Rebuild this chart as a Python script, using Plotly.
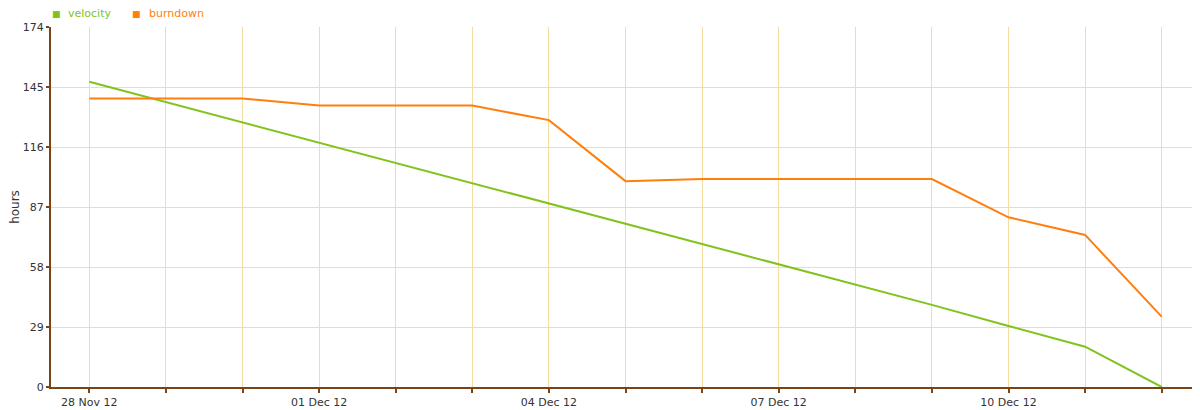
import plotly.graph_objects as go

dates = ["2012-11-28", "2012-11-29", "2012-11-30", "2012-12-01", "2012-12-02",
         "2012-12-03", "2012-12-04", "2012-12-05", "2012-12-06", "2012-12-07",
         "2012-12-08", "2012-12-09", "2012-12-10", "2012-12-11", "2012-12-12"]
velocity = [147.5, 137.7, 127.9, 118.1, 108.3, 98.5, 88.7, 78.9, 69.1, 59.3,
            49.5, 39.7, 29.5, 19.5, 0]
burndown = [139.5, 139.5, 139.5, 136, 136, 136, 129, 99.5, 100.5, 100.5,
            100.5, 100.5, 82, 73.5, 34]
tick_labels = ["28 Nov 12", "", "", "01 Dec 12", "", "", "04 Dec 12", "", "",
               "07 Dec 12", "", "", "10 Dec 12", "", ""]
y_ticks = [0, 29, 58, 87, 116, 145, 174]
series_names = ["velocity", "burndown"]

GREEN = "#80C31C"
ORANGE = "#FF7F0E"
BROWN = "#7A4419"
GRID = "#F5DCA0"
FONT = "DejaVu Sans"

# The page body has an 8px margin, so the figure is drawn 8px in from the window edge.
W, H = 1192, 402
ML, MT, MB, MR = 43, 19, 23, 0
PW, PH = W - ML - MR, H - MT - MB


def px_to_paper(xw, yw):
    """window pixel -> paper coords (figure offset by 8px body margin)"""
    return (xw - 8 - ML) / PW, (H - MB - (yw - 8)) / PH


fig = go.Figure()
fig.add_trace(go.Scatter(x=dates, y=velocity, mode="lines", line=dict(color=GREEN, width=2),
                         showlegend=False, name=series_names[0]))
fig.add_trace(go.Scatter(x=dates, y=burndown, mode="lines", line=dict(color=ORANGE, width=2),
                         showlegend=False, name=series_names[1]))

# legend drawn as text (square + coloured label)
legend_items = [(series_names[0], GREEN, 56, 66), (series_names[1], ORANGE, 136, 147)]
annotations = []
for name, col, sq_x, tx_x in legend_items:
    sx, sy = px_to_paper(sq_x, 14.5)
    tx, ty = px_to_paper(tx_x, 14)
    annotations.append(dict(text="■", x=sx, y=sy, xref="paper", yref="paper",
                            xanchor="center", yanchor="middle", showarrow=False,
                            font=dict(size=9, color=col, family=FONT)))
    annotations.append(dict(text=name, x=tx, y=ty, xref="paper", yref="paper",
                            xanchor="left", yanchor="middle", showarrow=False,
                            font=dict(size=11, color=col, family=FONT)))

fig.update_layout(
    width=W, height=H,
    margin=dict(l=ML, r=MR, t=MT, b=MB, autoexpand=False),
    paper_bgcolor="white", plot_bgcolor="white",
    font=dict(family=FONT, size=11, color="#333333"),
    showlegend=False,
    annotations=annotations,
)

fig.update_xaxes(
    type="date",
    range=["2012-11-27 12:00", "2012-12-12 12:00"],
    tickvals=dates, ticktext=tick_labels,
    showgrid=True, gridcolor=GRID, gridwidth=1,
    showline=True, linecolor=BROWN, linewidth=2,
    ticks="outside", ticklen=4, tickcolor=BROWN, tickwidth=2,
    tickfont=dict(size=11, color="#333333"),
    zeroline=False, automargin=False,
)
fig.update_yaxes(
    range=[0, 174],
    tickvals=y_ticks,
    showgrid=True, gridcolor=GRID, gridwidth=1,
    showline=True, linecolor=BROWN, linewidth=2,
    ticks="outside", ticklen=3, tickcolor=BROWN, tickwidth=2,
    tickfont=dict(size=11, color="#333333"),
    title=dict(text="hours", font=dict(size=12, color="#333333"), standoff=8),
    zeroline=False, automargin=False,
)

fig.write_html("out.html")
